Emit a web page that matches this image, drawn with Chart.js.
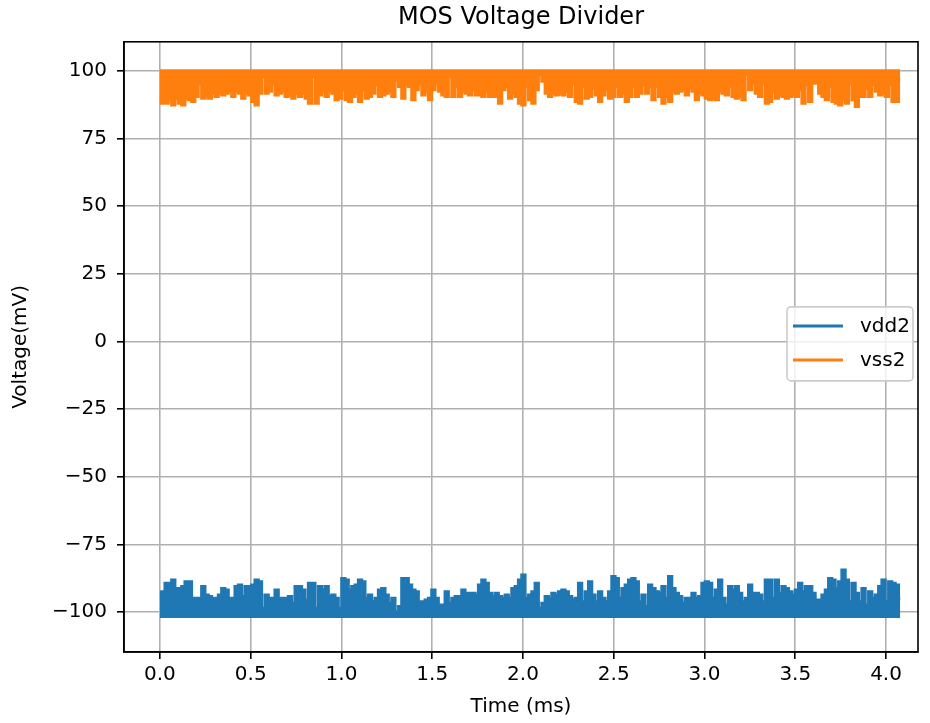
<!DOCTYPE html>
<html>
<head>
<meta charset="utf-8">
<script src="https://cdn.jsdelivr.net/npm/chart.js@4.4.0/dist/chart.umd.min.js"></script>
<style>
  html, body { margin: 0; padding: 0; background: #fff; }
</style>
</head>
<body>
<canvas id="myChart" width="930" height="723"></canvas>
<script>
// time between samples (ms)
const sampleStep = 0.01837;

const xTicks = [0, 0.5, 1, 1.5, 2, 2.5, 3, 3.5, 4];
const yTicks = [-100, -75, -50, -25, 0, 25, 50, 75, 100];

// vdd2: spike peaks above the ~-101.5 mV floor
const vdd2 = [
  -93.1, -92.5, -89.4, -89.4, -88.2, -91.3, -91.3, -90.6, -88.8, -88.8,
  -94.9, -94.9, -94.9, -90.6, -93.7, -94.3, -94.9, -94.9, -93.7, -91.3,
  -91.9, -94.9, -94.9, -90.6, -90.0, -94.3, -90.6, -90.6, -90.0, -88.2,
  -88.8, -98.6, -93.7, -94.9, -94.9, -91.9, -94.9, -94.9, -94.9, -94.3,
  -96.8, -90.6, -90.6, -91.9, -95.6, -89.4, -89.4, -98.6, -90.6, -91.9,
  -90.6, -94.3, -93.7, -94.9, -98.6, -87.6, -88.2, -91.9, -90.6, -90.0,
  -88.2, -88.8, -94.9, -93.7, -96.2, -94.9, -91.9, -91.3, -93.7, -96.8,
  -94.9, -99.9, -98.0, -87.6, -87.6, -90.0,
  -91.9, -92.5, -96.2, -96.2, -95.6, -94.9, -91.9, -94.9, -97.4, -97.4,
  -92.5, -96.8, -94.9, -94.3, -94.3, -91.9, -93.1, -93.1, -93.1, -93.7,
  -90.0, -88.2, -89.4, -93.1, -94.3, -93.1, -94.3, -94.9, -93.7, -94.9,
  -91.3, -90.6, -88.2, -86.3, -94.9, -93.7, -92.5, -89.4, -98.6, -96.8,
  -94.3, -94.9, -93.1, -93.7, -92.5, -91.9, -92.5, -94.3, -95.6, -94.9,
  -89.4, -96.2, -92.5, -88.8, -93.7, -96.2, -92.5, -94.9, -96.2, -92.5,
  -86.9, -87.6, -94.9, -91.3, -90.0, -88.2, -87.6, -88.8, -96.2, -93.7,
  -98.0, -90.0, -91.3, -92.5, -93.1,
  -90.6, -94.9, -86.9, -91.3, -93.1, -94.3, -96.8, -94.9, -94.9, -93.1,
  -94.9, -94.3, -89.4, -88.8, -89.4, -94.9, -91.9, -88.2, -94.9, -97.4,
  -90.6, -91.9, -90.6, -93.1, -96.2, -94.9, -90.0, -93.1, -93.1, -93.7,
  -96.2, -88.2, -88.2, -94.9, -88.2, -93.1, -90.6, -91.3, -92.5, -93.7,
  -91.9, -89.4, -92.5, -90.6, -90.6, -93.1, -95.6, -95.6, -93.7, -91.9,
  -87.6, -88.2, -91.3, -88.8, -84.5, -88.2, -96.2, -89.4, -93.1, -96.2,
  -91.3, -97.4, -92.5, -94.9, -93.7, -90.6, -88.2, -96.2, -88.8, -89.4,
  -90.0, -94.9
];

// vss2: dips below the ~100 mV ceiling
const vss2 = [
  88.0, 88.0, 88.0, 89.3, 87.4, 89.9, 88.0, 87.4, 89.9, 89.3,
  88.7, 90.5, 95.4, 89.9, 90.5, 89.9, 91.7, 90.5, 91.7, 91.1,
  91.7, 92.4, 90.5, 92.4, 91.7, 89.9, 91.7, 91.1, 88.7, 87.4,
  91.7, 97.9, 91.7, 92.4, 95.4, 91.1, 91.7, 92.4, 90.5, 91.1,
  89.9, 91.7, 90.5, 91.7, 89.9, 88.0, 97.9, 88.0, 91.1, 92.4,
  90.5, 92.4, 91.7, 89.3, 89.9, 93.0, 89.3, 88.7, 90.5, 91.7,
  88.7, 93.0, 89.9, 90.5, 91.7, 94.8, 90.5, 91.1, 91.7, 92.4,
  90.5, 96.7, 94.2, 89.9, 94.8, 94.2,
  89.3, 93.0, 95.4, 91.1, 92.4, 89.3, 93.0, 95.4, 92.4, 91.1,
  90.5, 97.9, 90.5, 94.2, 90.5, 92.4, 91.7, 91.1, 93.0, 91.1,
  91.1, 90.5, 92.4, 90.5, 90.5, 90.5, 88.0, 93.0, 94.2, 89.9,
  91.7, 90.5, 88.0, 87.4, 94.2, 89.3, 88.0, 93.0, 98.5, 96.1,
  91.7, 90.5, 91.7, 91.1, 91.7, 91.1, 92.4, 90.5, 95.4, 88.7,
  88.0, 94.2, 89.9, 90.5, 93.6, 91.1, 88.7, 91.1, 93.0, 89.9,
  90.5, 94.2, 90.5, 91.7, 88.7, 90.5, 94.2, 90.5, 91.7, 94.8,
  91.7, 94.2, 89.3, 94.2, 90.5,
  88.0, 90.5, 88.7, 92.4, 91.7, 92.4, 93.0, 91.1, 93.6, 92.4,
  89.3, 91.7, 91.1, 89.9, 89.3, 89.9, 89.3, 92.4, 91.7, 91.1,
  94.2, 90.5, 89.9, 90.5, 89.3, 98.5, 93.0, 95.4, 91.7, 90.5,
  95.4, 88.0, 88.7, 92.4, 89.9, 91.1, 90.5, 89.9, 90.5, 91.1,
  90.5, 93.0, 88.0, 94.8, 88.7, 95.4, 95.4, 91.7, 90.5, 89.3,
  94.2, 88.7, 88.0, 87.4, 89.3, 88.0, 95.4, 89.3, 86.8, 90.5,
  90.5, 93.6, 90.5, 94.8, 92.4, 91.1, 91.7, 90.5, 94.8, 88.7,
  88.7, 96.7
];

const vdd2Floor = -102.2;
const vss2Ceiling = 100.6;

const FONT = '"DejaVu Sans", sans-serif';

const toPoints = arr => arr.map((v, i) => ({x: i * sampleStep, y: v}));
const minus = v => String(v).replace('-', '\u2212');

// black frame on all four sides of the plot
const frame = {
  id: 'frame',
  afterDatasetsDraw(chart) {
    const {ctx, chartArea} = chart;
    ctx.save();
    ctx.strokeStyle = '#000';
    ctx.lineWidth = 1.6;
    ctx.strokeRect(chartArea.left, chartArea.top, chartArea.right - chartArea.left, chartArea.bottom - chartArea.top);
    ctx.restore();
  }
};

// matplotlib-like "center right" legend
const legendBox = {
  id: 'legendBox',
  afterDraw(chart) {
    const {ctx, chartArea} = chart;
    const w = 126, h = 74;
    const x = chartArea.right - 5 - w;
    const y = (chartArea.top + chartArea.bottom) / 2 - h / 2 - 3;
    ctx.save();
    ctx.beginPath();
    ctx.roundRect(x, y, w, h, 4);
    ctx.fillStyle = 'rgba(255,255,255,0.8)';
    ctx.fill();
    ctx.strokeStyle = '#cccccc';
    ctx.lineWidth = 1.6;
    ctx.stroke();
    chart.data.datasets.forEach((ds, i) => {
      const ly = y + 19 + i * 34;
      ctx.beginPath();
      ctx.moveTo(x + 6, ly);
      ctx.lineTo(x + 56, ly);
      ctx.strokeStyle = ds.borderColor;
      ctx.lineWidth = 3;
      ctx.stroke();
      ctx.fillStyle = '#000';
      ctx.font = '20px ' + FONT;
      ctx.textBaseline = 'middle';
      ctx.fillText(ds.label, x + 73, ly + 1);
    });
    ctx.restore();
  }
};

const ctx = document.getElementById('myChart').getContext('2d');

const myChart = new Chart(ctx, {
  type: 'line',
  data: {
    datasets: [{
      label: 'vdd2',
      data: toPoints(vdd2),
      borderColor: '#1f77b4',
      backgroundColor: '#1f77b4',
      borderWidth: 3,
      pointRadius: 0,
      stepped: 'middle',
      fill: {value: vdd2Floor}
    }, {
      label: 'vss2',
      data: toPoints(vss2),
      borderColor: '#ff7f0e',
      backgroundColor: '#ff7f0e',
      borderWidth: 3,
      pointRadius: 0,
      stepped: 'middle',
      fill: {value: vss2Ceiling}
    }]
  },
  options: {
    responsive: false,
    animation: false,
    layout: {padding: {left: 0, right: 12, top: 0, bottom: 0}},
    plugins: {
      legend: {display: false},
      tooltip: {enabled: false},
      title: {
        display: true,
        text: 'MOS Voltage Divider',
        color: '#000',
        font: {family: FONT, size: 24, weight: 'normal'},
        padding: {top: 3, bottom: 10},
        fullSize: false
      }
    },
    scales: {
      x: {
        type: 'linear',
        min: -0.198,
        max: 4.176,
        afterBuildTicks: axis => { axis.ticks = xTicks.map(v => ({value: v})); },
        afterFit: s => { s.height = 71; },
        ticks: {
          callback: v => v.toFixed(1),
          color: '#000',
          font: {family: FONT, size: 20},
          padding: 4,
          maxRotation: 0,
          autoSkip: false
        },
        grid: {color: '#b0b0b0', lineWidth: 1.6, tickColor: '#000', tickLength: 7, tickWidth: 1.6},
        border: {color: '#000', width: 1.6},
        title: {
          display: true,
          text: 'Time (ms)',
          color: '#000',
          font: {family: FONT, size: 20},
          padding: {top: 0, bottom: 4}
        }
      },
      y: {
        type: 'linear',
        min: -114.79,
        max: 110.72,
        afterBuildTicks: axis => { axis.ticks = yTicks.map(v => ({value: v})); },
        afterFit: s => { s.width = 124; },
        ticks: {
          callback: v => minus(v),
          color: '#000',
          font: {family: FONT, size: 20},
          padding: 10
        },
        grid: {color: '#b0b0b0', lineWidth: 1.6, tickColor: '#000', tickLength: 7, tickWidth: 1.6},
        border: {color: '#000', width: 1.6},
        title: {
          display: true,
          text: 'Voltage(mV)',
          color: '#000',
          font: {family: FONT, size: 20},
          padding: {top: 9, bottom: 0}
        }
      }
    }
  },
  plugins: [frame, legendBox]
});
</script>
</body>
</html>
